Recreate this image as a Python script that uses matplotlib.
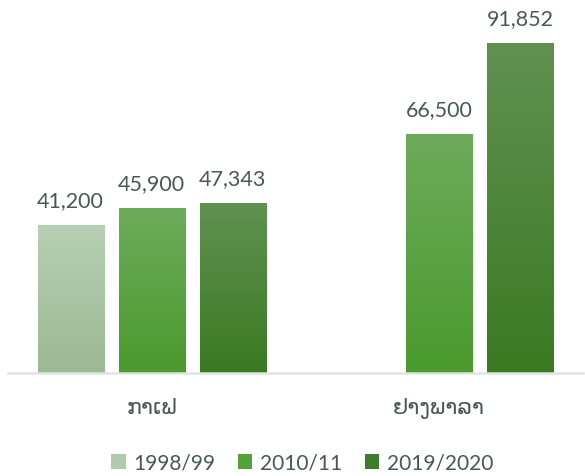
import matplotlib.pyplot as plt
import matplotlib.colors as mcolors
from matplotlib.patches import Patch
import numpy as np

plt.rcParams['font.family'] = ['Lato', 'DejaVu Sans']

categories = ['ກາເຟ', 'ຢາງພາລາ']
series = ['1998/99', '2010/11', '2019/2020']
values = {
    '1998/99': [41200, None],
    '2010/11': [45900, 66500],
    '2019/2020': [47343, 91852],
}
# gradient top / bottom colours per series
grad = {
    '1998/99': ('#b6d0b1', '#9bb994'),
    '2010/11': ('#6cab5b', '#4a9a2d'),
    '2019/2020': ('#619151', '#3a7a22'),
}
legend_col = {'1998/99': '#b0cbab', '2010/11': '#53a23a', '2019/2020': '#3f7d2c'}
text_col = '#475a50'

fig = plt.figure(figsize=(5.85, 4.76), dpi=100)
ax = fig.add_axes([8 / 585, 103 / 476, 575 / 585, 373 / 476])

slot = 0.282
width = 0.23
x = np.arange(len(categories))
for i, s in enumerate(series):
    off = (i - 1) * slot
    cmap = mcolors.LinearSegmentedColormap.from_list(s, [grad[s][1], grad[s][0]])
    for j, v in enumerate(values[s]):
        if v is None:
            continue
        x0 = x[j] + off - width / 2
        g = np.linspace(0, 1, 256).reshape(-1, 1)
        ax.imshow(g, cmap=cmap, origin='lower', aspect='auto',
                  extent=(x0, x0 + width, 0, v), zorder=2, interpolation='bicubic')
        ax.text(x[j] + off, v + 4000, f'{v:,}', ha='center', va='bottom',
                fontsize=15.5, color=text_col)

ax.set_xlim(-0.5, 1.5)
ax.set_ylim(0, 104000)
for sp in ['top', 'right', 'left']:
    ax.spines[sp].set_visible(False)
ax.spines['bottom'].set_color('#e0e4e2')
ax.spines['bottom'].set_linewidth(1.8)
ax.spines['bottom'].set_zorder(3)
ax.set_yticks([])
ax.set_xticks(x)
ax.set_xticklabels(categories, fontsize=16, color=text_col)
ax.tick_params(axis='x', length=0, pad=18)

handles = [Patch(facecolor=legend_col[s], edgecolor='none') for s in series]
fig.legend(handles, series, loc='center', bbox_to_anchor=(302 / 585, 1 - 463 / 476),
           ncol=3, frameon=False, fontsize=15, labelcolor=text_col,
           handlelength=0.7, handleheight=0.7, handletextpad=0.35, columnspacing=1.1)

fig.savefig('out.png', dpi=100)
